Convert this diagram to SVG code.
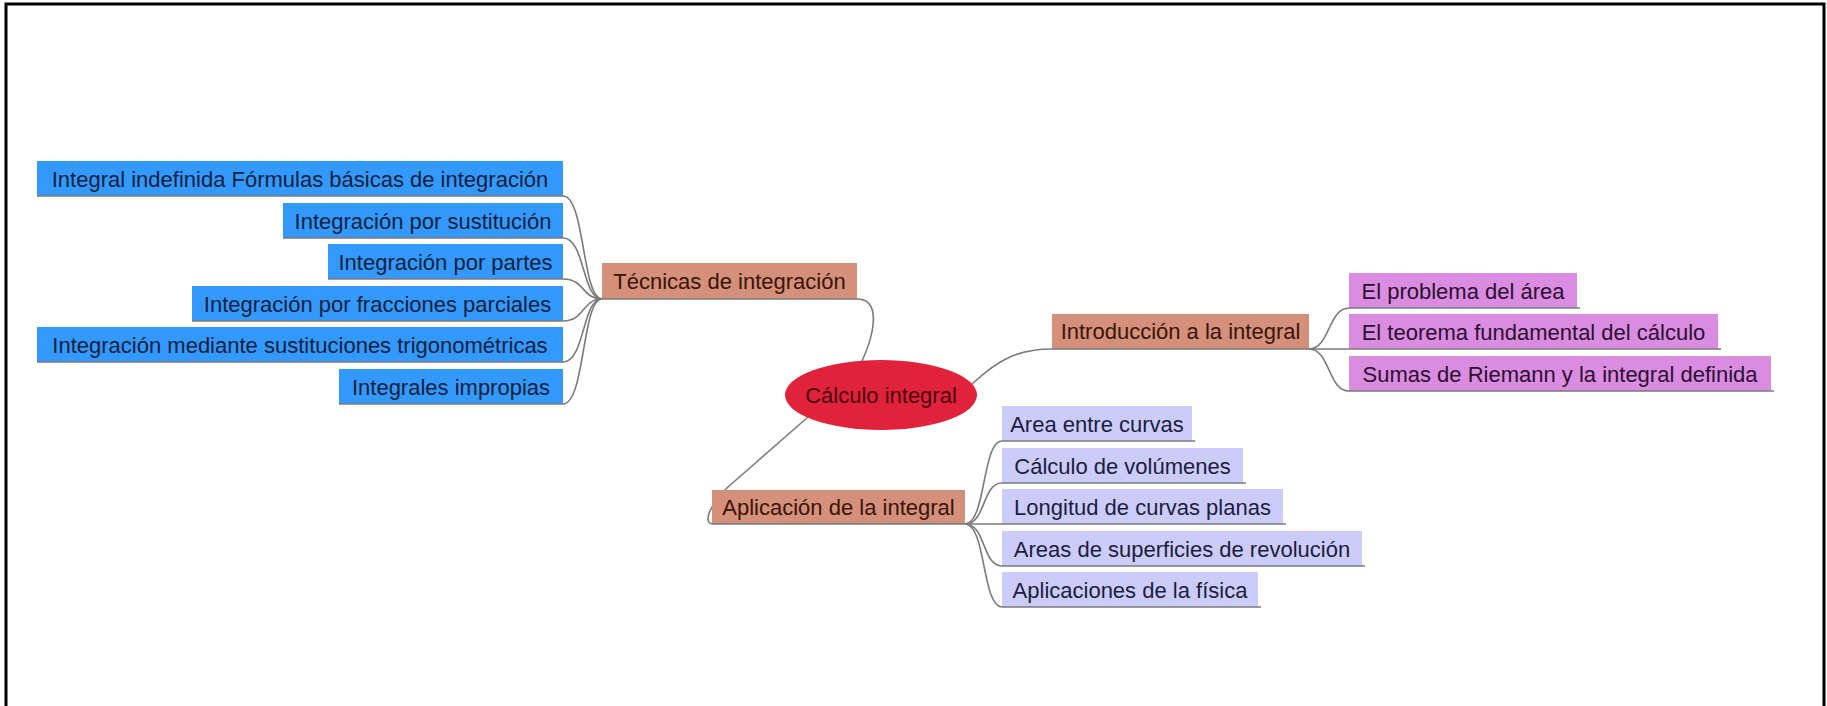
<svg xmlns="http://www.w3.org/2000/svg" width="1827" height="706" viewBox="0 0 1827 706">
<style>
text{font-family:"Liberation Sans",Arial,sans-serif;font-size:22px;text-anchor:middle}
.blue{fill:#3399ff}
.pink{fill:#da8de0}
.lav{fill:#ccccfa}
.sal{fill:#d4907a}
.ul{stroke:#7a7a7a;stroke-width:1.6;fill:none}
.tb{fill:#14213d}
.tp{fill:#2a0f30}
.tl{fill:#1c1c40}
.ts{fill:#3a1408}
.conn path{stroke:#7a7a7a;stroke-width:1.6;fill:none}
</style>
<rect x="0" y="0" width="1827" height="706" fill="#ffffff"/>
<path d="M6 706 V4 H1824 V706" fill="none" stroke="#000" stroke-width="3"/>

<g id="connectors" class="conn">
<path d="M857 299 C880 299 876 330 862 361"/>
<path d="M972 384 C1000 358 1020 349 1052 349"/>
<path d="M808 417 L728 487 C712 502 702 522 712 524"/>
<path d="M563 196 C585 196 582 299 602 299"/>
<path d="M563 238 C585 238 582 299 602 299"/>
<path d="M563 279 C585 279 582 299 602 299"/>
<path d="M563 321 C585 321 582 299 602 299"/>
<path d="M563 362 C585 362 582 299 602 299"/>
<path d="M563 404 C585 404 582 299 602 299"/>
<path d="M1309 349 C1330 349 1328 308 1349 308"/>
<path d="M1309 349 L1349 349"/>
<path d="M1309 349 C1330 349 1328 391 1349 391"/>
<path d="M965 524 C986 524 982 441 1002 441"/>
<path d="M965 524 C986 524 982 483 1002 483"/>
<path d="M965 524 L1002 524"/>
<path d="M965 524 C986 524 982 566 1002 566"/>
<path d="M965 524 C986 524 982 607 1002 607"/>
</g>

<g id="root">
<ellipse cx="881" cy="395" rx="96" ry="35" fill="#e0223a"/>
<text x="881" y="403" fill="#4a0810">Cálculo integral</text>
</g>

<g id="tecnicas">
<rect class="sal" x="602" y="263" width="255" height="36"/>
<line class="ul" x1="602" y1="299" x2="857" y2="299"/>
<text class="ts" x="729.5" y="289">Técnicas de integración</text>
</g>
<g id="introduccion">
<rect class="sal" x="1052" y="314" width="257" height="35"/>
<line class="ul" x1="1052" y1="349" x2="1309" y2="349"/>
<text class="ts" x="1180.5" y="339">Introducción a la integral</text>
</g>
<g id="aplicacion">
<rect class="sal" x="712" y="490" width="253" height="34"/>
<line class="ul" x1="712" y1="524" x2="965" y2="524"/>
<text class="ts" x="838.5" y="515">Aplicación de la integral</text>
</g>

<g id="b1"><rect class="blue" x="37" y="161" width="526" height="35"/><line class="ul" x1="37" y1="196" x2="563" y2="196"/><text class="tb" x="300" y="187">Integral indefinida Fórmulas básicas de integración</text></g>
<g id="b2"><rect class="blue" x="283" y="203" width="280" height="35"/><line class="ul" x1="283" y1="238" x2="563" y2="238"/><text class="tb" x="423" y="229">Integración por sustitución</text></g>
<g id="b3"><rect class="blue" x="328" y="244" width="235" height="35"/><line class="ul" x1="328" y1="279" x2="563" y2="279"/><text class="tb" x="445.5" y="270">Integración por partes</text></g>
<g id="b4"><rect class="blue" x="192" y="286" width="371" height="35"/><line class="ul" x1="192" y1="321" x2="563" y2="321"/><text class="tb" x="377.5" y="312">Integración por fracciones parciales</text></g>
<g id="b5"><rect class="blue" x="37" y="327" width="526" height="35"/><line class="ul" x1="37" y1="362" x2="563" y2="362"/><text class="tb" x="300" y="353">Integración mediante sustituciones trigonométricas</text></g>
<g id="b6"><rect class="blue" x="339" y="369" width="224" height="35"/><line class="ul" x1="339" y1="404" x2="563" y2="404"/><text class="tb" x="451" y="395">Integrales impropias</text></g>

<g id="p1"><rect class="pink" x="1349" y="273" width="228" height="35"/><line class="ul" x1="1349" y1="308" x2="1580" y2="308"/><text class="tp" x="1463" y="299">El problema del área</text></g>
<g id="p2"><rect class="pink" x="1349" y="314" width="369" height="35"/><line class="ul" x1="1349" y1="349" x2="1721" y2="349"/><text class="tp" x="1533.5" y="340">El teorema fundamental del cálculo</text></g>
<g id="p3"><rect class="pink" x="1349" y="356" width="422" height="35"/><line class="ul" x1="1349" y1="391" x2="1774" y2="391"/><text class="tp" x="1560" y="382">Sumas de Riemann y la integral definida</text></g>

<g id="l1"><rect class="lav" x="1002" y="406" width="190" height="35"/><line class="ul" x1="1002" y1="441" x2="1195" y2="441"/><text class="tl" x="1097" y="432">Area entre curvas</text></g>
<g id="l2"><rect class="lav" x="1002" y="448" width="241" height="35"/><line class="ul" x1="1002" y1="483" x2="1246" y2="483"/><text class="tl" x="1122.5" y="474">Cálculo de volúmenes</text></g>
<g id="l3"><rect class="lav" x="1002" y="489" width="281" height="35"/><line class="ul" x1="1002" y1="524" x2="1286" y2="524"/><text class="tl" x="1142.5" y="515">Longitud de curvas planas</text></g>
<g id="l4"><rect class="lav" x="1002" y="531" width="360" height="35"/><line class="ul" x1="1002" y1="566" x2="1365" y2="566"/><text class="tl" x="1182" y="557">Areas de superficies de revolución</text></g>
<g id="l5"><rect class="lav" x="1002" y="572" width="256" height="35"/><line class="ul" x1="1002" y1="607" x2="1261" y2="607"/><text class="tl" x="1130" y="598">Aplicaciones de la física</text></g>
</svg>
